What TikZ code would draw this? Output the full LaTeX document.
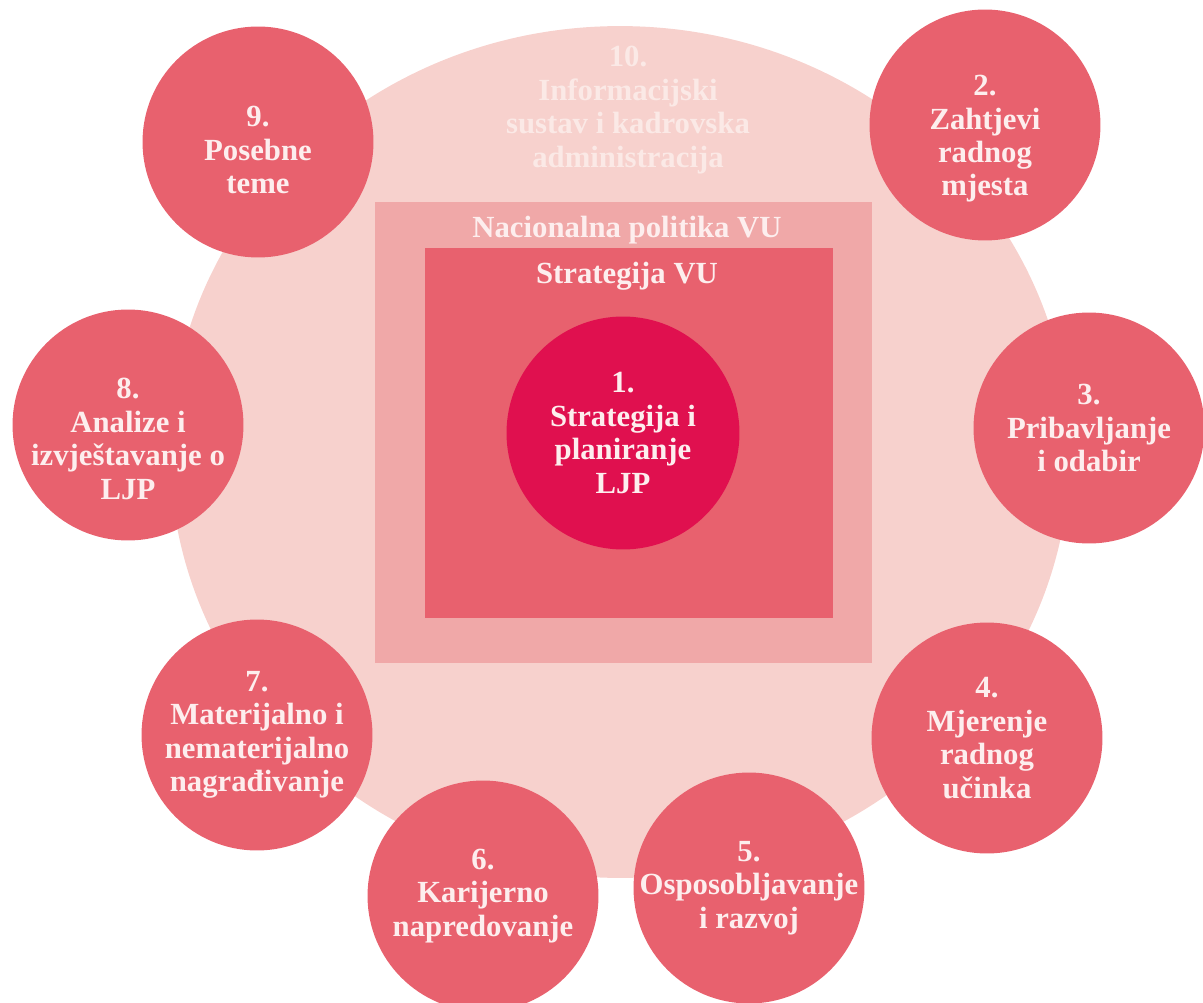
\documentclass[tikz,border=0pt]{standalone}
\usepackage{fontspec}
\setmainfont{Liberation Serif}
\usepackage{tikz}

\definecolor{blush}{HTML}{F7D1CD}
\definecolor{rosebox}{HTML}{F0A8A8}
\definecolor{coral}{HTML}{E8616E}
\definecolor{crimson}{HTML}{E0104F}
\definecolor{paletxt}{HTML}{FDEEEE}
\definecolor{fadetxt}{HTML}{FBE9E6}

\begin{document}
\begin{tikzpicture}[x=0.02cm, y=-0.02cm,
petal/.style={circle, fill=coral, minimum size=4.62cm, inner sep=0pt},
core/.style={circle, fill=crimson, minimum size=4.66cm, inner sep=0pt},
caption/.style={align=center, text=paletxt, inner sep=0pt,
  font=\bfseries\fontsize{17.5}{19}\selectfont}]

\useasboundingbox (0,0) rectangle (1203,1003);

\fill[blush] (620,452) ellipse [x radius=9cm, y radius=8.52cm];
\fill[rosebox] (375,202) rectangle (872,663);
\fill[coral] (425,248) rectangle (833,618);

\node[caption, text=fadetxt] (hrinfo) at (628,110) {10.\\Informacijski\\sustav i kadrovska\\administracija};
\node[caption] (natpolicy) at (627,230) {Nacionalna politika VU};
\node[caption] (strategy) at (627,276) {Strategija VU};

\node[core] (c1) at (623,433) {};
\node[caption] (t1) at (c1) {1.\\Strategija i\\planiranje\\LJP};

\node[petal] (c2) at (985,125) {};
\node[caption] (t2) at ([yshift=-0.28cm]c2.center) {2.\\Zahtjevi\\radnog\\mjesta};

\node[petal] (c3) at (1089,428) {};
\node[caption] (t3) at (c3) {3.\\Pribavljanje\\i odabir};

\node[petal] (c4) at (987,738) {};
\node[caption] (t4) at (c4) {4.\\Mjerenje\\radnog\\učinka};

\node[petal] (c5) at (749,888) {};
\node[caption] (t5) at (c5) {5.\\Osposobljavanje\\i razvoj};

\node[petal] (c6) at (483,896) {};
\node[caption] (t6) at (c6) {6.\\Karijerno\\napredovanje};

\node[petal] (c7) at (257,735) {};
\node[caption] (t7) at (c7) {7.\\Materijalno i\\nematerijalno\\nagrađivanje};

\node[petal] (c8) at (128,425) {};
\node[caption] (t8) at ([yshift=-0.28cm]c8.center) {8.\\Analize i\\izvještavanje o\\LJP};

\node[petal] (c9) at (258,142) {};
\node[caption] (t9) at ([yshift=-0.16cm]c9.center) {9.\\Posebne\\teme};

\end{tikzpicture}
\end{document}
